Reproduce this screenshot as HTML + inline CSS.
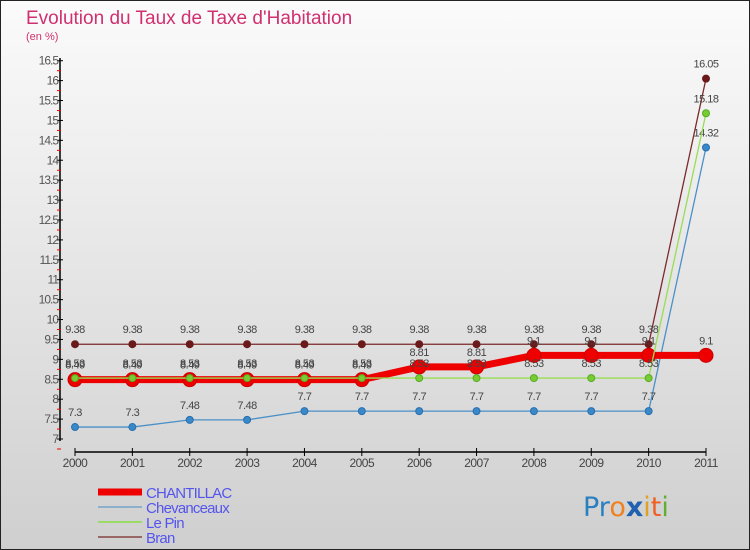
<!DOCTYPE html>
<html><head><meta charset="utf-8"><style>
body{margin:0;width:750px;height:550px;overflow:hidden;font-family:"Liberation Sans",sans-serif}
svg{display:block}
</style></head><body>
<svg id="c" width="750" height="550" xmlns="http://www.w3.org/2000/svg">
<defs><linearGradient id="bg" x1="0" y1="0" x2="0" y2="1"><stop offset="0" stop-color="#fbfbfb"/><stop offset="1" stop-color="#cfcfcf"/></linearGradient></defs>
<rect x="0.5" y="0.5" width="749" height="549" fill="url(#bg)" stroke="#222"/>
<text x="26" y="24" font-size="19" fill="#d03070">Evolution du Taux de Taxe d'Habitation</text>
<text x="26" y="40" font-size="11" fill="#d03070">(en %)</text>
<g id="axes"></g><g id="series"></g><g id="legend"></g>
<text x="583" y="516" font-size="27" font-family="DejaVu Sans,sans-serif"><tspan fill="#2a7fc0">Pr</tspan><tspan fill="#f08020">o</tspan><tspan fill="#2060b0" font-weight="bold">x</tspan><tspan fill="#e0a020">i</tspan><tspan fill="#f06020">t</tspan><tspan fill="#60b030">i</tspan></text>
</svg>
<script>
const years=[2000,2001,2002,2003,2004,2005,2006,2007,2008,2009,2010,2011];
const chantillac=[8.49,8.49,8.49,8.49,8.49,8.49,8.81,8.81,9.1,9.1,9.1,9.1];
const chevanceaux=[7.3,7.3,7.48,7.48,7.7,7.7,7.7,7.7,7.7,7.7,7.7,14.32];
const lePin=[8.53,8.53,8.53,8.53,8.53,8.53,8.53,8.53,8.53,8.53,8.53,15.18];
const bran=[9.38,9.38,9.38,9.38,9.38,9.38,9.38,9.38,9.38,9.38,9.38,16.05];
const yTicks=[7,7.5,8,8.5,9,9.5,10,10.5,11,11.5,12,12.5,13,13.5,14,14.5,15,15.5,16,16.5];
const seriesNames=["CHANTILLAC","Chevanceaux","Le Pin","Bran"];
const NS="http://www.w3.org/2000/svg";
const xs=i=>75+i*(706-75)/(years.length-1);
const ys=v=>439-(v-7)*(439-60.7)/9.5;
function mk(tag,at,parent,txt){const e=document.createElementNS(NS,tag);for(const k in at)e.setAttribute(k,at[k]);if(txt!==undefined)e.textContent=txt;parent.appendChild(e);return e;}
const ax=document.getElementById('axes');
let e=mk('line',{x1:60,y1:58,x2:60,y2:441,stroke:'#000','stroke-width':1.5},ax);


yTicks.forEach(t=>{const y=ys(t);
 let l=mk('line',{x1:57,y1:y,x2:63,y2:y,stroke:'#000'},ax);
 
 
 let m=mk('line',{x1:57,y1:y+10,x2:61,y2:y+10,stroke:'#e00'},ax);
 
 
 let tx=mk('text',{x:58,y:y+4,'font-size':12,fill:'#555','text-anchor':'end','letter-spacing':'-1'},ax,String(t));
 
 
});
e=mk('line',{x1:75,y1:452,x2:706,y2:452,stroke:'#000','stroke-width':1.5},ax);


years.forEach((yr,i)=>{const x=xs(i);
 let l=mk('line',{x1:x,y1:448,x2:x,y2:456,stroke:'#000'},ax);
 
 
 let t=mk('text',{x:x,y:467,'font-size':12,fill:'#444','text-anchor':'middle','letter-spacing':'-0.5'},ax,String(yr));
 
 
});
const sg=document.getElementById('series');
function draw(vals,name,color,w,r,dot,ring){
 const g=mk('g',{},sg);
 
 
 const p=mk('polyline',{points:vals.map((v,i)=>xs(i)+','+ys(v)).join(' '),fill:'none',stroke:color,'stroke-width':w},g);
 
 
 vals.forEach((v,i)=>{
  const c=mk('circle',{cx:xs(i),cy:ys(v),r:r,fill:dot,stroke:ring,'stroke-width':1},g);
  
  
  const t=mk('text',{x:xs(i),y:ys(v)-11,'font-size':11,fill:'#444','text-anchor':'middle','letter-spacing':'-0.5'},g,String(v));
  
  
 });
}
draw(bran,'bran','#7a2a2a',1.3,3.5,'#6a1a1a','#6a1a1a');
draw(chevanceaux,'chevanceaux','#4a90c8',1.3,3.5,'#3a88c8','#2a70b0');
draw(chantillac,'chantillac','#ee0000',7,7,'#ee0000','#cc0000');
draw(lePin,'le-pin','#99dd55',1.3,3.5,'#77cc33','#55aa22');
const lg=document.getElementById('legend');
const cols=['#ee0000','#8ab0cc','#99dd66','#996666'],ws=[7,2,2,2];
seriesNames.forEach((n,i)=>{const y=492+i*15;
 const l=mk('line',{x1:98,y1:y,x2:142,y2:y,stroke:cols[i],'stroke-width':ws[i]},lg);
 
 
 const t=mk('text',{x:146,y:y+6,'font-size':15,fill:'#5555ee','letter-spacing':'-0.8'},lg,n);
 
 
});
</script>
</body></html>
